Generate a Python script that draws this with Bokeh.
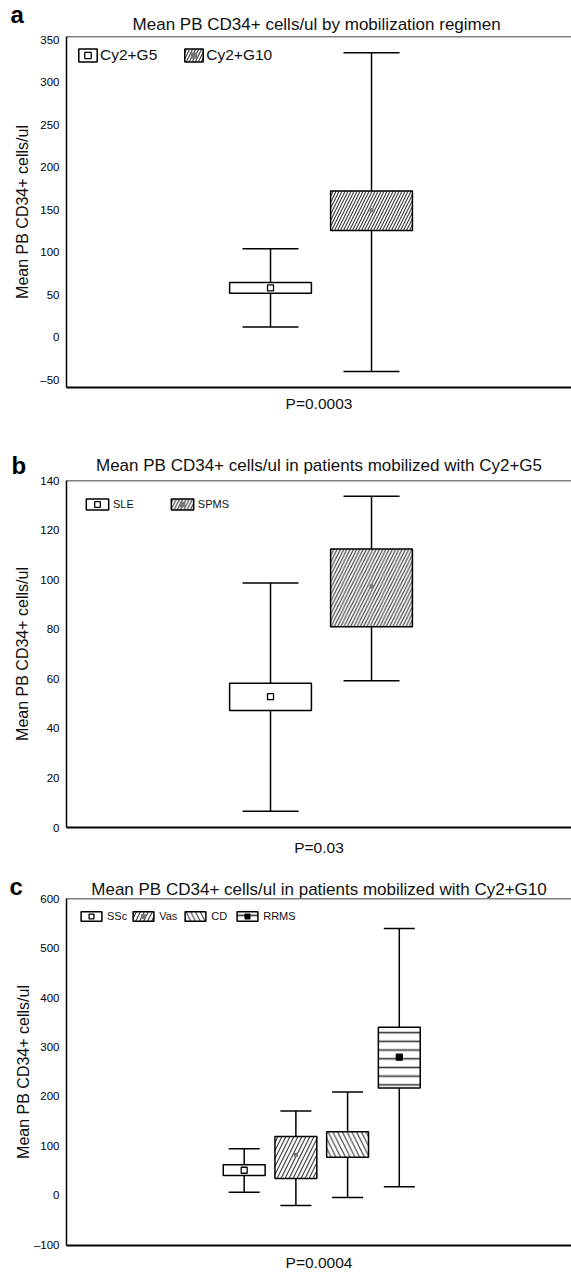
from bokeh.plotting import figure
from bokeh.models import (Range1d, Whisker, TeeHead, ColumnDataSource, Legend,
                          LegendItem, Span, FixedTicker, Title)
from bokeh.layouts import column
from bokeh.embed import file_html
from bokeh.resources import INLINE

FONT = "Liberation Sans"
YLABEL = "Mean PB CD34+ cells/ul"

# ---------------- data: panel a ----------------
a_groups = ["Cy2+G5", "Cy2+G10"]
a_mean = [57.8, 149.2]
a_box_lo = [51.5, 125.6]
a_box_hi = [64.1, 171.9]
a_whisk_lo = [11.9, -40.6]
a_whisk_hi = [104.1, 334.7]
a_ticks = [-50, 0, 50, 100, 150, 200, 250, 300, 350]
a_title = "Mean PB CD34+ cells/ul by  mobilization regimen"
a_p = "P=0.0003"

# ---------------- data: panel b ----------------
b_groups = ["SLE", "SPMS"]
b_mean = [52.8, 97.3]
b_box_lo = [47.2, 81.1]
b_box_hi = [58.2, 112.4]
b_whisk_lo = [6.6, 59.2]
b_whisk_hi = [98.7, 133.7]
b_ticks = [0, 20, 40, 60, 80, 100, 120, 140]
b_title = "Mean PB CD34+ cells/ul in patients mobilized with Cy2+G5"
b_p = "P=0.03"

# ---------------- data: panel c ----------------
c_groups = ["SSc", "Vas", "CD", "RRMS"]
c_mean = [50.3, 81.9, 102.4, 279.2]
c_box_lo = [39.6, 33.6, 76.5, 216.8]
c_box_hi = [61.7, 118.8, 128.2, 339.6]
c_whisk_lo = [6.0, -20.8, -4.7, 16.8]
c_whisk_hi = [94.0, 170.5, 208.7, 540.0]
c_ticks = [-100, 0, 100, 200, 300, 400, 500, 600]
c_title = "Mean PB CD34+ cells/ul in patients mobilized with Cy2+G10"
c_p = "P=0.0004"


def make_panel(letter, title, groups, mean, lo, hi, wlo, whi, ticks, pstr, cfg):
    H = cfg["height"]
    p = figure(width=571, height=H, output_backend="svg", toolbar_location=None,
               title=None,
               x_range=Range1d(*cfg["xr"]), y_range=Range1d(*cfg["yr"]),
               min_border_left=66, min_border_right=0,
               min_border_top=cfg["top"], min_border_bottom=cfg["bottom"],
               background_fill_color="white", border_fill_color="white")
    p.outline_line_color = None
    p.grid.visible = False

    # chart title (nearest to the frame)
    p.add_layout(Title(text=title, align="center", text_font=FONT,
                       text_font_size="17px", text_font_style="normal",
                       text_color="#111111", standoff=cfg["title_standoff"]), "above")
    # panel letter (outer row, pulled down onto the title line)
    p.add_layout(Title(text=letter, align="left", offset=cfg["letter_off"],
                       text_font=FONT, text_font_size="24px", text_font_style="bold",
                       text_color="black", standoff=cfg["letter_standoff"]), "above")

    # y axis
    ya = p.yaxis[0]
    ya.ticker = FixedTicker(ticks=ticks)
    ya.major_label_overrides = {t: ("\u2013" + str(-t)) for t in ticks if t < 0}
    ya.major_tick_line_color = None
    ya.minor_tick_line_color = None
    ya.major_tick_out = 0
    ya.major_tick_in = 0
    ya.major_label_standoff = 7
    ya.major_label_text_font = FONT
    ya.major_label_text_font_size = "11.5px"
    ya.major_label_text_color = "black"
    ya.axis_line_width = 1.5
    ya.axis_line_color = "black"
    ya.axis_label = YLABEL
    ya.axis_label_text_font = FONT
    ya.axis_label_text_font_size = "16px"
    ya.axis_label_text_font_style = "normal"
    ya.axis_label_text_color = "#111111"
    ya.axis_label_standoff = cfg["ylab_standoff"]

    # x axis: line + P value as its label
    xa = p.xaxis[0]
    xa.ticker = FixedTicker(ticks=[])
    xa.major_tick_line_color = None
    xa.minor_tick_line_color = None
    xa.major_tick_out = 0
    xa.major_tick_in = 0
    xa.major_label_standoff = 0
    xa.major_label_text_font_size = "0px"
    xa.axis_line_width = 2
    xa.axis_line_color = "black"
    xa.axis_label = pstr
    xa.axis_label_text_font = FONT
    xa.axis_label_text_font_size = "15.5px"
    xa.axis_label_text_font_style = "normal"
    xa.axis_label_text_color = "#111111"
    xa.axis_label_standoff = cfg["p_standoff"]

    # top frame line
    p.add_layout(Span(location=cfg["yr"][1], dimension="width",
                      line_color="black", line_width=1.5))

    xs = list(range(1, len(groups) + 1))
    src = ColumnDataSource(dict(x=xs, lo=wlo, hi=whi))
    wh = Whisker(source=src, base="x", lower="lo", upper="hi", dimension="height",
                 line_color="black", line_width=1.5, level="underlay",
                 upper_head=TeeHead(size=cfg["cap"], line_width=1.5, line_color="black"),
                 lower_head=TeeHead(size=cfg["cap"], line_width=1.5, line_color="black"))
    p.add_layout(wh)

    items = []
    for i, g in enumerate(groups):
        st = cfg["styles"][i]
        bar = p.vbar(x=[xs[i]], width=0.81, bottom=[lo[i]], top=[hi[i]],
                     fill_color="white", line_color="black", line_width=1.5,
                     hatch_pattern=st["hatch"], hatch_color=st.get("hcolor", "#444444"),
                     hatch_scale=st.get("hscale", 6), hatch_weight=st.get("hweight", 1.2))
        sc = p.scatter(x=[xs[i]], y=[mean[i]], marker="square", size=st["msize"],
                       fill_color=st["mfill"], line_color=st["mline"], line_width=1.3,
                       alpha=st.get("malpha", 1.0))
        items.append(LegendItem(label=g, renderers=[bar, sc]))

    lg = cfg["legend"]
    legend = Legend(items=items, orientation="horizontal", location="top_left",
                    margin=lg["margin"], padding=0, border_line_color=None,
                    background_fill_alpha=0,
                    glyph_width=lg["gw"], glyph_height=lg["gh"], label_height=lg["gh"],
                    label_standoff=lg["standoff"], spacing=lg["spacing"],
                    label_text_font=FONT, label_text_font_size=lg["fs"],
                    label_text_color="#111111")
    p.add_layout(legend)
    return p


plain = dict(hatch=None, msize=6, mfill="white", mline="black")

cfg_a = dict(height=425, top=36, bottom=38, xr=(-1.02, 3.98), yr=(-59.4, 353.9),
             title_standoff=5, letter_off=-56, letter_standoff=-34,
             ylab_standoff=6, p_standoff=7, cap=56,
             styles=[plain,
                     dict(hatch="/", hscale=6, msize=4, mfill="#777777", mline=None)],
             legend=dict(margin=10, gw=23, gh=16, standoff=1, spacing=25, fs="15.5px"))

cfg_b = dict(height=437, top=55, bottom=35, xr=(-1.02, 3.98), yr=(0, 140.1),
             title_standoff=12, letter_off=-55, letter_standoff=-62,
             ylab_standoff=6, p_standoff=11, cap=56,
             styles=[plain,
                     dict(hatch="/", hscale=6.5, msize=4, mfill="#777777", mline=None)],
             legend=dict(margin=17, gw=28, gh=14, standoff=2, spacing=34, fs="11px"))

cfg_c = dict(height=411, top=36, bottom=28, xr=(-2.437, 7.331), yr=(-102, 600.5),
             title_standoff=0, letter_off=-57, letter_standoff=-45,
             ylab_standoff=-1, p_standoff=8, cap=31,
             styles=[plain,
                     dict(hatch="/", hscale=8, msize=4, mfill="#777777", mline=None),
                     dict(hatch="\\", hscale=9.5, msize=4, mfill="#777777", mline=None,
                          malpha=0.0),
                     dict(hatch="-", hscale=8.7, hweight=1.6, hcolor="#333333",
                          msize=6, mfill="black", mline="black")],
             legend=dict(margin=12, gw=26, gh=12, standoff=3, spacing=3, fs="11px"))

pa = make_panel("a", a_title, a_groups, a_mean, a_box_lo, a_box_hi, a_whisk_lo,
                a_whisk_hi, a_ticks, a_p, cfg_a)
pb = make_panel("b", b_title, b_groups, b_mean, b_box_lo, b_box_hi, b_whisk_lo,
                b_whisk_hi, b_ticks, b_p, cfg_b)
pc = make_panel("c", c_title, c_groups, c_mean, c_box_lo, c_box_hi, c_whisk_lo,
                c_whisk_hi, c_ticks, c_p, cfg_c)

layout = column(pa, pb, pc, spacing=0)
open("out.html", "w").write(file_html(layout, INLINE))
